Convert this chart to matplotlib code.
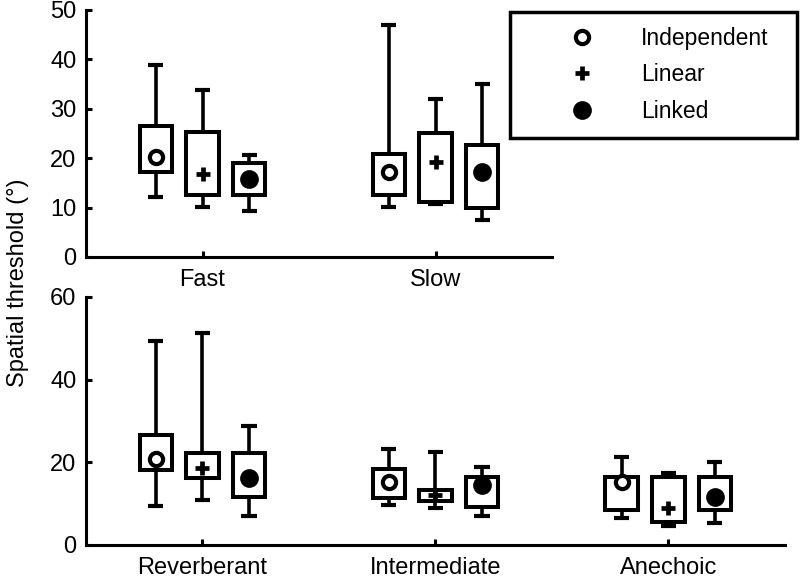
import matplotlib
matplotlib.use('Agg')
import matplotlib.pyplot as plt
from matplotlib.lines import Line2D

plt.rcParams['font.family'] = ['Liberation Sans', 'DejaVu Sans']

# Data (degrees)
conditions = ['Independent', 'Linear', 'Linked']

speed_groups = ['Fast', 'Slow']
# per condition: [Fast, Slow]
speed_whi_hi = {'Independent': [38.9, 47.0], 'Linear': [33.8, 32.0], 'Linked': [20.6, 35.0]}
speed_q3 = {'Independent': [26.5, 20.8], 'Linear': [25.3, 25.1], 'Linked': [19.0, 22.7]}
speed_q1 = {'Independent': [17.2, 12.6], 'Linear': [12.6, 11.2], 'Linked': [12.6, 9.9]}
speed_whi_lo = {'Independent': [12.1, 10.1], 'Linear': [10.1, 10.7], 'Linked': [9.4, 7.5]}
speed_med = {'Independent': [20.3, 17.2], 'Linear': [16.8, 19.2], 'Linked': [15.8, 17.2]}

room_groups = ['Reverberant', 'Intermediate', 'Anechoic']
room_whi_hi = {'Independent': [49.4, 23.2, 21.3], 'Linear': [51.3, 22.5, 17.4], 'Linked': [28.8, 18.9, 20.1]}
room_q3 = {'Independent': [26.6, 18.4, 16.5], 'Linear': [22.3, 13.3, 16.5], 'Linked': [22.3, 16.5, 16.5]}
room_q1 = {'Independent': [18.2, 11.4, 8.5], 'Linear': [16.2, 10.7, 5.6], 'Linked': [11.6, 9.2, 8.5]}
room_whi_lo = {'Independent': [9.4, 9.7, 6.5], 'Linear': [10.9, 8.9, 4.6], 'Linked': [7.0, 7.0, 5.3]}
room_med = {'Independent': [20.8, 15.2, 15.2], 'Linear': [18.6, 12.1, 9.0], 'Linked': [16.2, 14.5, 11.6]}

offsets = {'Independent': -0.2, 'Linear': 0.0, 'Linked': 0.2}
markers = {
    'Independent': dict(marker='o', ms=9.5, mfc='white', mec='black', mew=3.0),
    'Linear': dict(marker='+', ms=10, mec='black', mew=3.4),
    'Linked': dict(marker='o', ms=13.5, mfc='black', mec='black', mew=0),
}

BOX_LW = 2.9
WHI_LW = 2.6
SPINE_LW = 2.2
BOX_W = 0.14
CAP_W = 0.065
FS = 17


def draw_panel(ax, groups, whi_hi, q3, q1, whi_lo, med):
    xs = list(range(1, len(groups) + 1))
    for c in conditions:
        px = [x + offsets[c] for x in xs]
        ax.vlines(px, q3[c], whi_hi[c], color='black', lw=WHI_LW, zorder=2)
        ax.vlines(px, whi_lo[c], q1[c], color='black', lw=WHI_LW, zorder=2)
        ax.hlines(whi_hi[c], [p - CAP_W / 2 for p in px], [p + CAP_W / 2 for p in px],
                  color='black', lw=WHI_LW + 0.4, zorder=2)
        ax.hlines(whi_lo[c], [p - CAP_W / 2 for p in px], [p + CAP_W / 2 for p in px],
                  color='black', lw=WHI_LW + 0.4, zorder=2)
        heights = [a - b for a, b in zip(q3[c], q1[c])]
        ax.bar(px, heights, bottom=q1[c], width=BOX_W, facecolor='white',
               edgecolor='black', linewidth=BOX_LW, zorder=3)
        ax.plot(px, med[c], linestyle='none', zorder=4, **markers[c])
    ax.set_xticks(xs)
    ax.set_xticklabels(groups)
    ax.set_xlim(0.5, len(groups) + 0.5)
    for s in ['top', 'right']:
        ax.spines[s].set_visible(False)
    for s in ['left', 'bottom']:
        ax.spines[s].set_linewidth(SPINE_LW)
    ax.tick_params(direction='in', length=4, width=SPINE_LW, labelsize=FS)
    ax.tick_params(axis='x', pad=9)
    ax.tick_params(axis='y', pad=7)


fig = plt.figure(figsize=(8, 5.78), dpi=100)
ax1 = fig.add_axes([0.1075, 0.5554, 0.5825, 0.4273])
ax2 = fig.add_axes([0.1075, 0.0571, 0.8735, 0.4291])

draw_panel(ax1, speed_groups, speed_whi_hi, speed_q3, speed_q1, speed_whi_lo, speed_med)
ax1.set_ylim(0, 50)
ax1.set_yticks([0, 10, 20, 30, 40, 50])

draw_panel(ax2, room_groups, room_whi_hi, room_q3, room_q1, room_whi_lo, room_med)
ax2.set_ylim(0, 60)
ax2.set_yticks([0, 20, 40, 60])

fig.text(0.022, 0.51, 'Spatial threshold (°)', rotation=90, ha='center', va='center',
         fontsize=FS)

handles = [Line2D([], [], linestyle='none', **markers[c]) for c in conditions]
leg = fig.legend(handles, conditions, loc='upper left',
                 bbox_to_anchor=(510 / 800, 1 - 12 / 578, 287 / 800, 0.0),
                 mode='expand', borderaxespad=0, fancybox=False, edgecolor='black',
                 fontsize=16.5, handletextpad=0.08, labelspacing=0.6, borderpad=0.64,
                 handlelength=5.0, framealpha=1)
leg.get_frame().set_linewidth(SPINE_LW + 0.3)

fig.savefig('out.png', dpi=100)
